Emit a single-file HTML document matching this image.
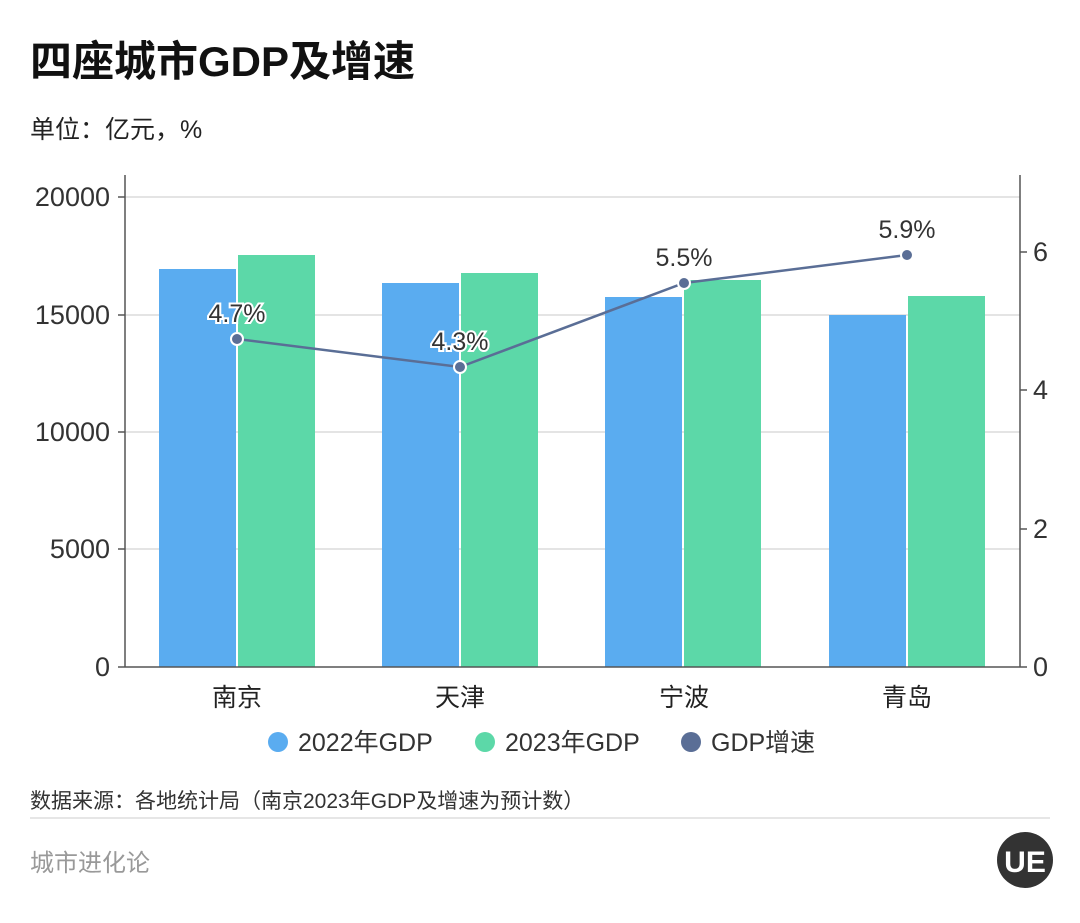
<!DOCTYPE html>
<html><head><meta charset="utf-8"><style>
body{margin:0;background:#fff;font-family:"Liberation Sans","Noto Sans CJK SC",sans-serif;}
</style></head><body>
<svg width="1080" height="918" xmlns="http://www.w3.org/2000/svg" font-family="Liberation Sans, Noto Sans CJK SC, sans-serif">
<rect width="1080" height="918" fill="#fff"/>
<text x="30" y="76" font-size="42" font-weight="bold" fill="#111">四座城市GDP及增速</text>
<text x="30" y="138" font-size="25" fill="#222">单位：亿元，%</text>
<g stroke="#dcdcdc" stroke-width="1.5">
<line x1="125" y1="197" x2="1020" y2="197"/><line x1="125" y1="315" x2="1020" y2="315"/>
<line x1="125" y1="432" x2="1020" y2="432"/><line x1="125" y1="549" x2="1020" y2="549"/>
</g>
<g fill="#5aacf0">
<rect x="159" y="269" width="77" height="398"/><rect x="382" y="283" width="77" height="384"/>
<rect x="605" y="297" width="77" height="370"/><rect x="829" y="315" width="77" height="352"/>
</g>
<g fill="#5cd8a8">
<rect x="238" y="255" width="77" height="412"/><rect x="461" y="273" width="77" height="394"/>
<rect x="684" y="280" width="77" height="387"/><rect x="908" y="296" width="77" height="371"/>
</g>
<g stroke="#555" stroke-width="1.5">
<line x1="125" y1="175" x2="125" y2="667"/><line x1="1020" y1="175" x2="1020" y2="667"/>
<line x1="125" y1="667" x2="1020" y2="667"/>
<line x1="118" y1="197" x2="125" y2="197"/><line x1="118" y1="315" x2="125" y2="315"/><line x1="118" y1="432" x2="125" y2="432"/><line x1="118" y1="549" x2="125" y2="549"/><line x1="118" y1="667" x2="125" y2="667"/>
<line x1="1020" y1="252" x2="1027" y2="252"/><line x1="1020" y1="390" x2="1027" y2="390"/><line x1="1020" y1="529" x2="1027" y2="529"/><line x1="1020" y1="667" x2="1027" y2="667"/>
</g>
<g font-size="27" fill="#333" text-anchor="end">
<text x="110" y="206">20000</text><text x="110" y="324">15000</text><text x="110" y="441">10000</text><text x="110" y="558">5000</text><text x="110" y="676">0</text>
</g>
<g font-size="27" fill="#333">
<text x="1033" y="261">6</text><text x="1033" y="399">4</text><text x="1033" y="538">2</text><text x="1033" y="676">0</text>
</g>
<g font-size="25" fill="#222" text-anchor="middle">
<text x="237" y="706">南京</text><text x="460" y="706">天津</text><text x="684" y="706">宁波</text><text x="907" y="706">青岛</text>
</g>
<polyline points="237,339 460,367 684,283 907,255" fill="none" stroke="#5a6e96" stroke-width="2.5"/>
<g fill="#5a6e96" stroke="#fff" stroke-width="2">
<circle cx="237" cy="339" r="6"/><circle cx="460" cy="367" r="6"/><circle cx="684" cy="283" r="6"/><circle cx="907" cy="255" r="6"/>
</g>
<g font-size="25" fill="#333" text-anchor="middle" stroke="#fff" stroke-width="4" paint-order="stroke">
<text x="237" y="322">4.7%</text><text x="460" y="350">4.3%</text><text x="684" y="266">5.5%</text><text x="907" y="238">5.9%</text>
</g>
<g font-size="25" fill="#333">
<circle cx="278" cy="742" r="10" fill="#5aacf0"/><text x="298" y="751">2022年GDP</text>
<circle cx="485" cy="742" r="10" fill="#5cd8a8"/><text x="505" y="751">2023年GDP</text>
<circle cx="691" cy="742" r="10" fill="#5a6e96"/><text x="711" y="751">GDP增速</text>
</g>
<text x="30" y="808" font-size="21" fill="#333">数据来源：各地统计局（南京2023年GDP及增速为预计数）</text>
<line x1="30" y1="818" x2="1050" y2="818" stroke="#ddd" stroke-width="1.5"/>
<text x="30" y="871" font-size="24" fill="#999">城市进化论</text>
<circle cx="1025" cy="860" r="28" fill="#333"/>
<text x="1025" y="872" font-size="30" font-weight="bold" fill="#fff" text-anchor="middle">UE</text>
</svg>
</body></html>
